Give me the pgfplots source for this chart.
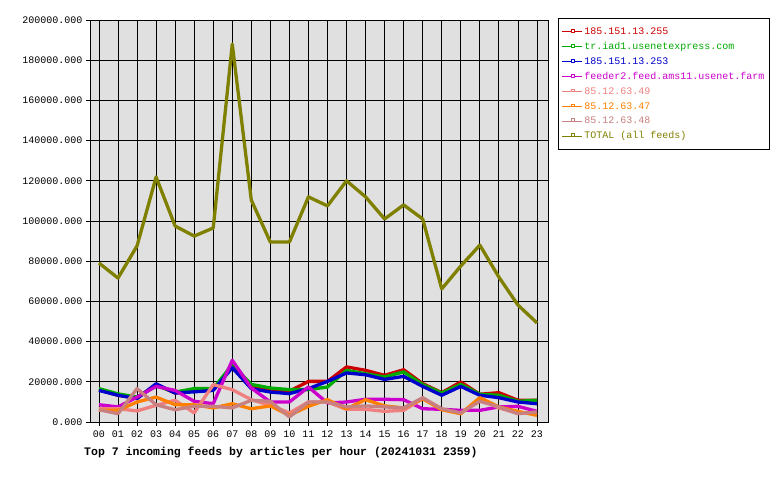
\documentclass[border=0pt]{standalone}
\usepackage{pgfplots}
\usepackage{pgfplotstable}
\pgfplotsset{compat=1.18}
\usepackage{fontspec}
\setmainfont{Liberation Mono}
\definecolor{cRed}{HTML}{CC0000}
\definecolor{cGreen}{HTML}{00AA00}
\definecolor{cBlue}{HTML}{0000CC}
\definecolor{cMag}{HTML}{CC00CC}
\definecolor{cSalmon}{HTML}{F08080}
\definecolor{cOrange}{HTML}{FF8000}
\definecolor{cRosy}{HTML}{C88080}
\definecolor{cOlive}{HTML}{808000}
\definecolor{cBg}{HTML}{E0E0E0}
\pgfplotstableread{
h r g b m s o p t
0 16000 16600 15700 8600 6600 5800 6100 79100
1 13300 14000 13300 7500 6600 5800 4100 71600
2 11900 12400 11600 12400 5500 9950 16600 87600
3 18600 18000 19000 17700 8300 12400 8600 121900
4 14400 14900 14400 15700 10800 8600 6100 97500
5 16000 16600 15000 10300 4500 8600 7800 92500
6 16000 16600 15700 9100 18600 7000 7800 96500
7 27700 28500 27000 30700 16100 9100 7000 188000
8 17400 18700 16600 16900 11100 6600 10800 110400
9 16100 16900 14900 9950 8300 8000 10300 89500
10 15300 16100 14100 9950 4500 3300 2500 89500
11 20200 16100 16600 17400 9950 7800 9950 112000
12 20200 17400 20200 9450 9950 11100 9950 107500
13 27400 25700 24400 9950 6300 6600 7500 120000
14 25700 24000 23500 11300 6300 11100 8000 112000
15 23200 22400 21200 11300 5300 8000 7500 101000
16 26000 24900 22700 11100 5800 7000 7000 108000
17 19100 18600 17700 6600 11600 11600 12100 101000
18 14600 14400 13300 6300 6300 6100 6600 66200
19 19900 18700 17700 5800 4300 4100 4500 77600
20 13800 13800 13300 5800 11600 12100 10300 88000
21 14600 13300 12100 7500 7000 7500 7500 72100
22 10800 10300 9950 7800 4300 5300 4100 58200
23 10800 10800 9100 5300 4800 3300 5000 49300
}\data
\begin{document}
\begin{tikzpicture}[x=1bp,y=1bp]
\useasboundingbox (0,0) rectangle (780,480);
\begin{axis}[
  at={(90bp,58bp)}, anchor=south west,
  scale only axis, width=458bp, height=402bp,
  xmin=-0.47, xmax=23.58, ymin=0, ymax=200000,
  axis background/.style={fill=cBg},
  xtick={0,...,23},
  xticklabels={00,01,02,03,04,05,06,07,08,09,10,11,12,13,14,15,16,17,18,19,20,21,22,23},
  ytick={0,20000,...,200000},
  scaled y ticks=false,
  yticklabel style={/pgf/number format/.cd, fixed, fixed zerofill, precision=3, 1000 sep={}, assume math mode=true},
  tick label style={font=\fontsize{10bp}{12bp}\selectfont},
  grid=major, major grid style={black, line width=0.8pt},
  axis line style={black, line width=0.8pt},
  tick align=outside, major tick length=4bp,
  tick style={black, line width=0.8pt},
  xtick pos=bottom, ytick pos=left,
  xticklabel style={yshift=-1bp},
  every axis plot/.append style={line width=3.3bp, line join=round, mark=none},
  legend style={at={(1.0218,1.005)}, anchor=north west, draw=black, line width=0.8pt, fill=white,
    font=\fontsize{10bp}{12bp}\selectfont, row sep=2.5bp, inner xsep=3bp, inner ysep=7.5bp},
  legend cell align=left,
  legend image code/.code={
    \draw[#1, line width=1pt] (0bp,0bp) -- (20bp,0bp);
    \draw[#1, line width=0.6pt, fill=white] (9bp,0bp) rectangle (12bp,2.5bp);
  },
]
\addplot[cRed] table[x=h,y=r]{\data};
\addlegendentry{\textcolor{cRed}{185.151.13.255}}
\addplot[cGreen] table[x=h,y=g]{\data};
\addlegendentry{\textcolor{cGreen}{tr.iad1.usenetexpress.com}}
\addplot[cBlue] table[x=h,y=b]{\data};
\addlegendentry{\textcolor{cBlue}{185.151.13.253}}
\addplot[cMag] table[x=h,y=m]{\data};
\addlegendentry{\textcolor{cMag}{feeder2.feed.ams11.usenet.farm}}
\addplot[cSalmon] table[x=h,y=s]{\data};
\addlegendentry{\textcolor{cSalmon}{85.12.63.49}}
\addplot[cOrange] table[x=h,y=o]{\data};
\addlegendentry{\textcolor{cOrange}{85.12.63.47}}
\addplot[cRosy] table[x=h,y=p]{\data};
\addlegendentry{\textcolor{cRosy}{85.12.63.48}}
\addplot[cOlive] table[x=h,y=t]{\data};
\addlegendentry{\textcolor{cOlive}{TOTAL (all feeds)}}
\end{axis}
\node[anchor=west, font=\fontsize{11.5bp}{13bp}\selectfont\bfseries, inner sep=0pt] at (84,28) {Top 7 incoming feeds by articles per hour (20241031 2359)};
\end{tikzpicture}
\end{document}
